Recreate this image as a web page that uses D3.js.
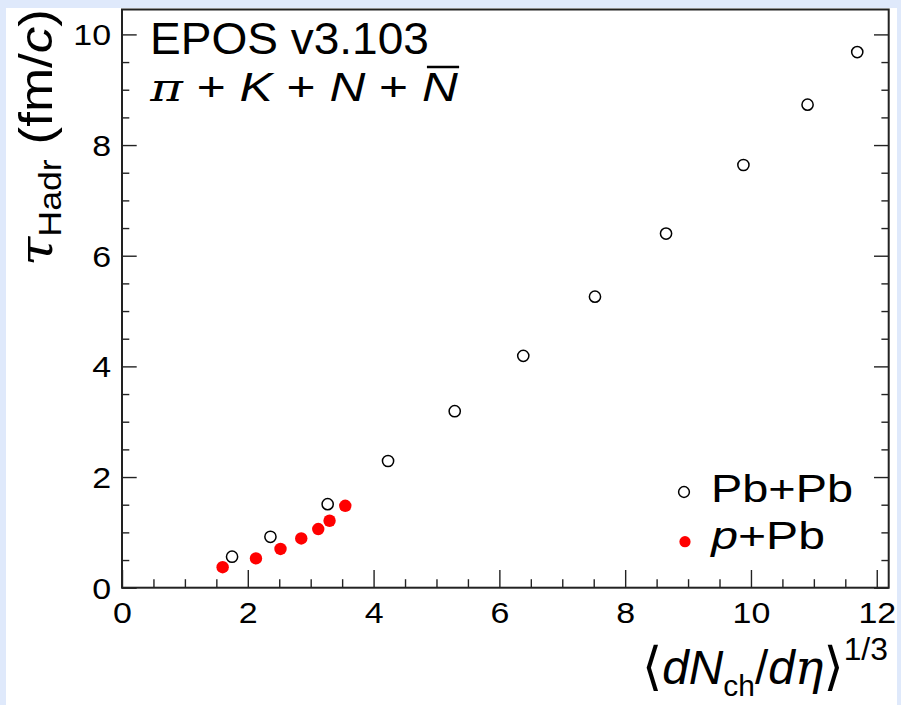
<!DOCTYPE html>
<html><head><meta charset="utf-8">
<script src="https://cdn.jsdelivr.net/npm/d3@7"></script>
<style>
html,body{margin:0;padding:0;background:#dfe9fb;}
svg{display:block;}
text{font-family:"Liberation Sans",Arial,Helvetica,sans-serif;fill:#000;}
</style></head>
<body>
<svg id="c" width="901" height="705"></svg>
<script>
// ---- data ----
const pbpbX = [1.75, 2.36, 3.27, 4.23, 5.29, 6.38, 7.52, 8.65, 9.88, 10.90, 11.69];
const pbpbY = [0.56, 0.92, 1.51, 2.29, 3.19, 4.19, 5.26, 6.40, 7.64, 8.73, 9.68];
const ppbX  = [1.60, 2.13, 2.52, 2.85, 3.12, 3.30, 3.55];
const ppbY  = [0.37, 0.53, 0.70, 0.89, 1.06, 1.21, 1.48];
const xTicks = [0, 2, 4, 6, 8, 10, 12];
const yTicks = [0, 2, 4, 6, 8, 10];
const seriesNames = ["Pb+Pb", "p+Pb"];

const svg = d3.select("#c");
svg.append("rect").attr("x", 6).attr("y", 8).attr("width", 891).attr("height", 697).attr("fill", "#fff");

const L = 122, R = 888.7, T = 9.5, B = 587.7;
const x = d3.scaleLinear().domain([0, 12.19]).range([L, R]);
const y = d3.scaleLinear().domain([0, 10.45]).range([B, T]);

const xMinor = d3.range(0, 12.01, 0.5);
const yMinor = d3.range(0, 10.01, 0.5);

// bottom axis ticks (inside)
const gx = svg.append("g").attr("transform", `translate(0,${B})`)
  .call(d3.axisBottom(x).tickValues(xMinor).tickSize(0).tickFormat(""));
gx.select(".domain").remove();
gx.selectAll(".tick line").attr("y2", d => xTicks.includes(d) ? -17.7 : -8.5)
  .attr("stroke", "#222").attr("stroke-width", 1.4);
const gxl = svg.append("g").attr("transform", `translate(0,${B})`)
  .call(d3.axisBottom(x).tickValues(xTicks).tickSize(0).tickPadding(0).tickFormat(d3.format("d")));
gxl.select(".domain").remove();
gxl.selectAll(".tick text").attr("font-size", 29).attr("y", 0).attr("dy", 0)
  .attr("transform", "translate(0,35.5) scale(1.17,1)").attr("font-family", "Liberation Sans");

// left axis
const gy = svg.append("g").attr("transform", `translate(${L},0)`)
  .call(d3.axisLeft(y).tickValues(yMinor).tickSize(0).tickFormat(""));
gy.select(".domain").remove();
gy.selectAll(".tick line").attr("x2", d => yTicks.includes(d) ? 14.7 : 7.3)
  .attr("stroke", "#222").attr("stroke-width", 1.4);
const gyl = svg.append("g").attr("transform", `translate(${L},0)`)
  .call(d3.axisLeft(y).tickValues(yTicks).tickSize(0).tickPadding(0).tickFormat(d3.format("d")));
gyl.select(".domain").remove();
gyl.selectAll(".tick text").attr("font-size", 29).attr("x", 0).attr("dy", "0.36em")
  .attr("text-anchor", "end").attr("transform", "translate(-11,0) scale(1.17,1)").attr("font-family", "Liberation Sans");

// right axis ticks
const gr = svg.append("g").attr("transform", `translate(${R},0)`)
  .call(d3.axisRight(y).tickValues(yMinor).tickSize(0).tickFormat(""));
gr.select(".domain").remove();
gr.selectAll(".tick line").attr("x2", d => yTicks.includes(d) ? -14.7 : -7.3)
  .attr("stroke", "#222").attr("stroke-width", 1.4);

// frame
svg.append("rect").attr("x", L).attr("y", T).attr("width", R - L).attr("height", B - T)
  .attr("fill", "none").attr("stroke", "#222").attr("stroke-width", 2);

// data
svg.append("g").selectAll("circle").data(pbpbX.map((v, i) => [v, pbpbY[i]])).join("circle")
  .attr("cx", d => x(d[0])).attr("cy", d => y(d[1])).attr("r", 5.6)
  .attr("fill", "none").attr("stroke", "#000").attr("stroke-width", 1.5);
svg.append("g").selectAll("circle").data(ppbX.map((v, i) => [v, ppbY[i]])).join("circle")
  .attr("cx", d => x(d[0])).attr("cy", d => y(d[1])).attr("r", 6.2)
  .attr("fill", "#ff0000");

// helper to stretch a group horizontally between left/right (based on its text)
function fitX(g, txt, left, right) {
  const b = txt.node().getBBox();
  const s = (right - left) / b.width;
  g.attr("transform", `translate(${left},0) scale(${s},1) translate(${-b.x},0)`);
}

// title
const g1 = svg.append("g");
const t1 = g1.append("text").attr("x", 0).attr("y", 54).attr("font-size", 45).text("EPOS v3.103");
fitX(g1, t1, 150, 429);
const g2 = svg.append("g");
const t2 = g2.append("text").attr("x", 0).attr("y", 101).attr("font-size", 40);
t2.append("tspan").attr("font-style", "italic").attr("font-family", "DejaVu Serif").text("π");
t2.append("tspan").text(" + ");
t2.append("tspan").attr("font-style", "italic").text("K");
t2.append("tspan").text(" + ");
t2.append("tspan").attr("font-style", "italic").text("N");
t2.append("tspan").text(" + ");
t2.append("tspan").attr("font-style", "italic").text("N");
(function () {
  const n = t2.node().getNumberOfChars();
  const e = t2.node().getExtentOfChar(n - 1);
  g2.append("line").attr("x1", e.x + 4).attr("x2", e.x + e.width + 1)
    .attr("y1", 101 - 34).attr("y2", 101 - 34).attr("stroke", "#000").attr("stroke-width", 2.4);
})();
fitX(g2, t2, 149, 458);

// legend
svg.append("circle").attr("cx", 684).attr("cy", 492).attr("r", 5.4)
  .attr("fill", "none").attr("stroke", "#000").attr("stroke-width", 1.5);
svg.append("circle").attr("cx", 685).attr("cy", 541.7).attr("r", 5.6).attr("fill", "#ff0000");
const gl1 = svg.append("g");
const l1 = gl1.append("text").attr("x", 0).attr("y", 502).attr("font-size", 38).text(seriesNames[0]);
fitX(gl1, l1, 711, 853);
const gl2 = svg.append("g");
const l2 = gl2.append("text").attr("x", 0).attr("y", 549).attr("font-size", 38);
l2.append("tspan").attr("font-style", "italic").text("p");
l2.append("tspan").text("+Pb");
fitX(gl2, l2, 710, 825);

// x title
const gxt = svg.append("g");
const xt = gxt.append("text").attr("x", 0).attr("y", 684).attr("font-size", 48);
xt.append("tspan").attr("font-family", "DejaVu Sans").attr("font-size", 52).text("⟨");
xt.append("tspan").attr("font-style", "italic").text("dN");
xt.append("tspan").attr("font-size", 30).attr("dy", 12).text("ch");
xt.append("tspan").attr("dy", -12).text("/");
xt.append("tspan").attr("font-style", "italic").text("d");
xt.append("tspan").attr("font-style", "italic").attr("font-family", "DejaVu Serif").text("η");
xt.append("tspan").attr("font-family", "DejaVu Sans").attr("font-size", 52).text("⟩");
xt.append("tspan").attr("font-size", 32).attr("dy", -24).text("1/3");
fitX(gxt, xt, 642, 888);

// y title (rotated)
const yt = svg.append("text").attr("x", 0).attr("y", 0).attr("font-size", 46);
yt.append("tspan").attr("font-style", "italic").attr("font-family", "DejaVu Serif").text("τ");
yt.append("tspan").attr("font-size", 31).attr("dy", 9).text("Hadr");
yt.append("tspan").attr("dy", -9).text(" (fm/");
yt.append("tspan").attr("font-style", "italic").text("c");
yt.append("tspan").text(")");
(function () {
  const b = yt.node().getBBox();
  const s = (266 - 9) / b.width;
  yt.attr("transform", `translate(52,266) rotate(-90) scale(${s},1) translate(${-b.x},0)`);
})();
</script>
</body></html>
